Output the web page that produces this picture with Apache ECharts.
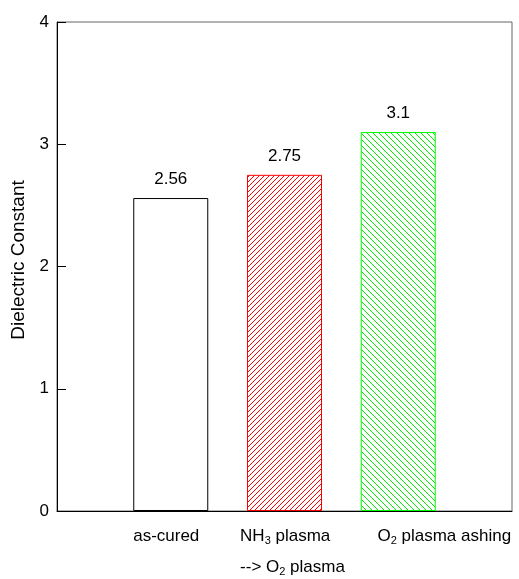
<!DOCTYPE html>
<html>
<head>
<meta charset="utf-8">
<script src="https://cdn.jsdelivr.net/npm/echarts@6/dist/echarts.min.js"></script>
<style>
  html, body { margin: 0; padding: 0; background: #fff; }
  #chart { width: 519px; height: 579px; }
</style>
</head>
<body>
<div id="chart"></div>
<script>
// Treatments (first and last slots are empty padding on the axis)
const categories = ['', 'as-cured', 'NH3 plasma --> O2 plasma', 'O2 plasma ashing', ''];
// Rich-text versions of the category names (with subscripts)
const categoryLabels = [
  '',
  '{n|as-cured}',
  '{l|NH}{ls|3}{l| plasma}\n{l|--> O}{ls|2}{l| plasma}',
  '{n|O}{s|2}{n| plasma ashing}',
  ''
];
// Dielectric constant per treatment
const dielectric = [null, 2.56, 2.75, 3.1, null];
const yTicks = { min: 0, max: 4, step: 1 };

const FONT = '"Liberation Sans", Arial, Helvetica, sans-serif';

// Diagonal hatch tile for a bar fill
function hatch(color, size, dir) {
  const c = document.createElement('canvas');
  c.width = size; c.height = size;
  const g = c.getContext('2d');
  g.fillStyle = '#fff';
  g.fillRect(0, 0, size, size);
  g.strokeStyle = color;
  g.lineWidth = 1;
  g.beginPath();
  for (let k = -1; k <= 1; k++) {
    if (dir === '/') {
      g.moveTo(k * size - 1, size + 1);
      g.lineTo(k * size + size + 1, -1);
    } else {
      g.moveTo(k * size - 1, -1);
      g.lineTo(k * size + size + 1, size + 1);
    }
  }
  g.stroke();
  return c;
}

const barStyles = [
  null,
  { color: '#ffffff', borderColor: '#000000', borderWidth: 1 },
  { color: { image: hatch('#ff0000', 5, '/'), repeat: 'repeat' }, borderColor: '#ff0000', borderWidth: 1 },
  { color: { image: hatch('#00ee00', 6, '\\'), repeat: 'repeat' }, borderColor: '#00ff00', borderWidth: 1 },
  null
];
// Horizontal nudges of the category labels
const labelPads = [
  [0, 0, 0, 0],
  [0, 9, 0, 0],
  [0, 0, 0, 16],
  [0, 0, 0, 92],
  [0, 0, 0, 0]
];

const sub = { fontSize: 11, fontFamily: FONT, color: '#000', verticalAlign: 'top', lineHeight: 31, padding: [14, 0, 0, 0] };

const chart = echarts.init(document.getElementById('chart'));

chart.setOption({
  animation: false,
  backgroundColor: '#fff',
  grid: {
    left: 57, right: 7, top: 22, bottom: 68,
    containLabel: false,
    outerBoundsMode: 'none',
    show: true, borderColor: '#666', borderWidth: 1, backgroundColor: 'transparent'
  },
  xAxis: {
    type: 'category',
    boundaryGap: false,
    data: categories.map((c, i) => ({
      value: c,
      textStyle: { padding: labelPads[i] }
    })),
    axisLine: { show: true, lineStyle: { color: '#000', width: 1 } },
    axisTick: { show: false },
    splitLine: { show: false },
    axisLabel: {
      interval: 0,
      hideOverlap: false,
      margin: 10,
      color: '#000',
      fontFamily: FONT,
      fontSize: 17,
      lineHeight: 31,
      formatter: (v, i) => categoryLabels[i],
      rich: {
        n: { fontSize: 17, fontFamily: FONT, color: '#000', lineHeight: 31 },
        s: sub,
        l: { fontSize: 17, fontFamily: FONT, color: '#000', align: 'left', lineHeight: 31 },
        ls: Object.assign({ align: 'left' }, sub)
      }
    }
  },
  yAxis: {
    type: 'value',
    min: yTicks.min, max: yTicks.max, interval: yTicks.step,
    name: 'Dielectric Constant',
    nameLocation: 'middle',
    nameGap: 28,
    nameTextStyle: { fontFamily: FONT, fontSize: 19, color: '#000', padding: [0, 0, 0, 13] },
    axisLine: { show: true, lineStyle: { color: '#000', width: 1 } },
    axisTick: { show: true, inside: true, length: 9, lineStyle: { color: '#000' } },
    splitLine: { show: false },
    axisLabel: { color: '#000', fontFamily: FONT, fontSize: 17, margin: 8 }
  },
  series: [{
    type: 'bar',
    barWidth: 75,
    data: dielectric.map((v, i) => v == null ? '-' : ({ value: v, itemStyle: barStyles[i] })),
    label: {
      show: true,
      position: 'top',
      distance: 10,
      color: '#000',
      fontFamily: FONT,
      fontSize: 17
    }
  }]
});
</script>
</body>
</html>
